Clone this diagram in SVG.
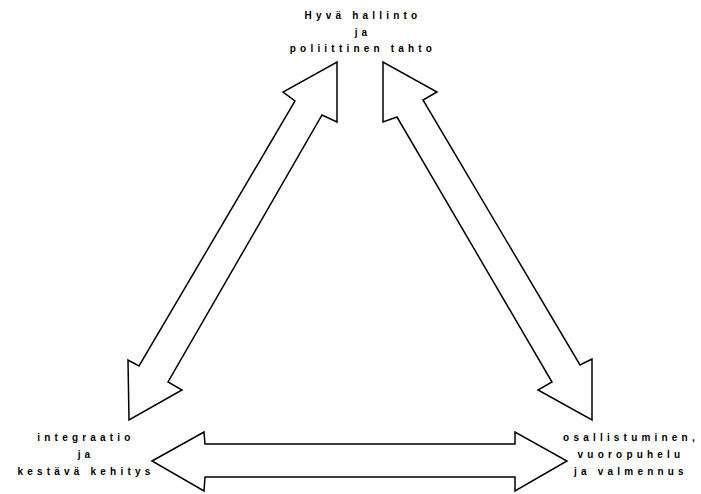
<svg xmlns="http://www.w3.org/2000/svg" width="701" height="494" viewBox="0 0 701 494">
<style>
.arrow{fill:#fff;stroke:#000;stroke-width:1.5;stroke-linejoin:miter}
.lbl{font-family:"Liberation Sans",Arial,sans-serif;font-size:10px;font-weight:bold;letter-spacing:4.2px;text-anchor:middle;fill:#000}
</style>
<rect width="701" height="494" fill="#fff"/>
<g id="connectors">
<polygon class="arrow" points="337,62 337,122 322,115 168,382 182,390 129,420 128,360 139,366 295,101 283,92"/>
<polygon class="arrow" points="383,62 383,122 397,117 552,382 538,390 592,420 592,359 580,365 423,100 437,92"/>
<polygon class="arrow" points="152,461 204,432 205,444 515,444 515,432 567,461 515,491 515,477 205,477 204,491"/>
</g>
<g id="node-top">
<text class="lbl" x="363" y="19">Hyvä hallinto</text>
<text class="lbl" x="363" y="36">ja</text>
<text class="lbl" x="363" y="52">poliittinen tahto</text>
</g>
<g id="node-left">
<text class="lbl" x="86" y="441">integraatio</text>
<text class="lbl" x="86" y="458">ja</text>
<text class="lbl" x="86" y="475">kestävä kehitys</text>
</g>
<g id="node-right">
<text class="lbl" x="631" y="441">osallistuminen,</text>
<text class="lbl" x="631" y="458">vuoropuhelu</text>
<text class="lbl" x="631" y="475">ja valmennus</text>
</g>
</svg>
